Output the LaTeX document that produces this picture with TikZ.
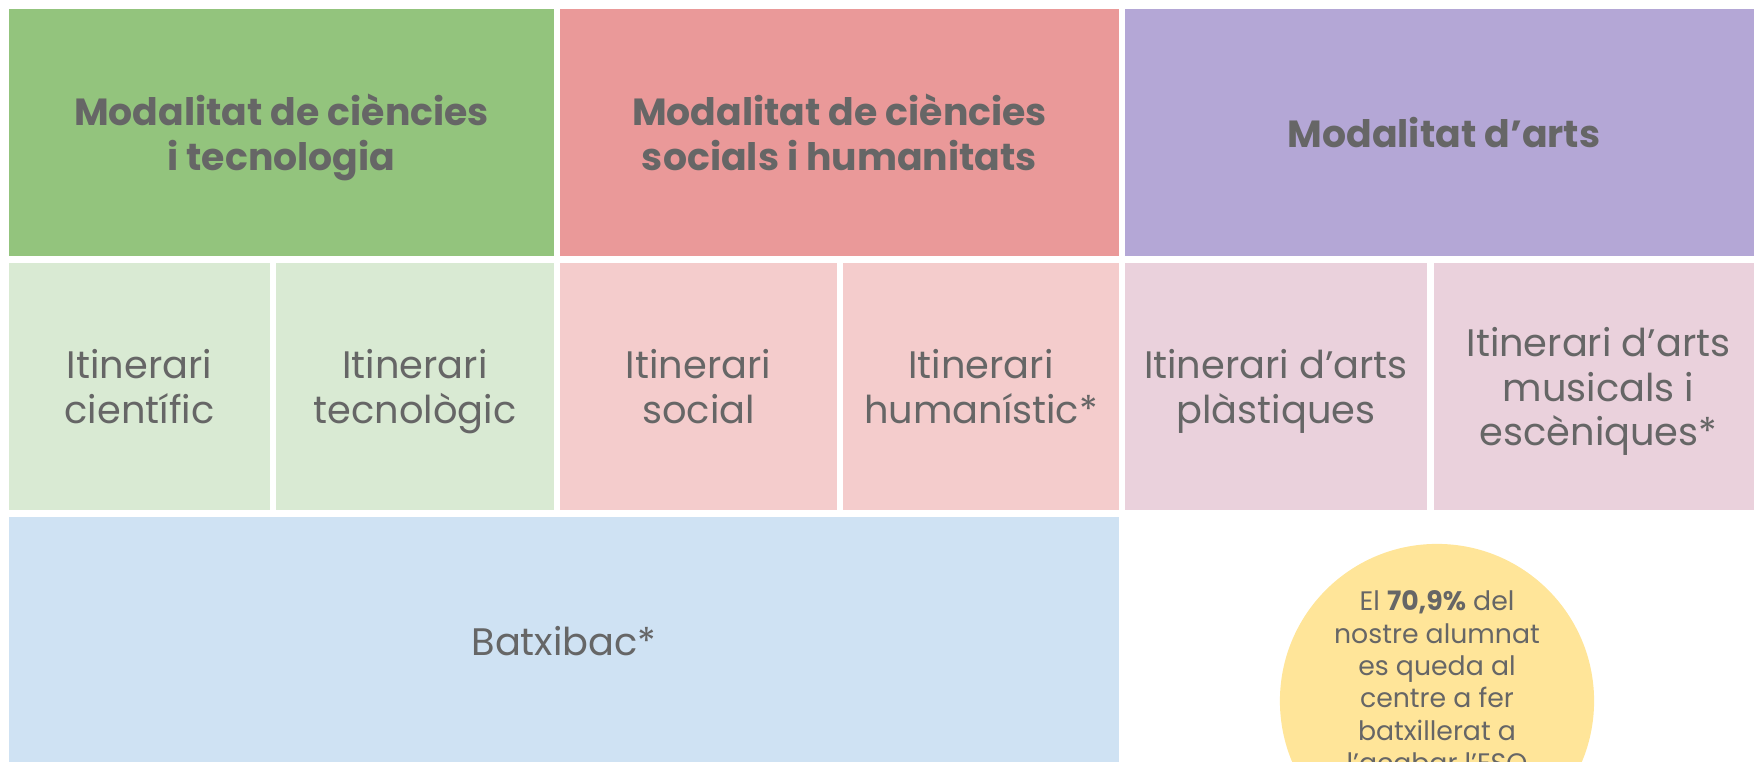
\documentclass[tikz,border=0pt]{standalone}
\usepackage{fontspec}
\setmainfont{Poppins}
\usepackage{xcolor}
\usepackage{tikz}

\definecolor{verd}{HTML}{93C47D}
\definecolor{verdclar}{HTML}{D9EAD3}
\definecolor{vermell}{HTML}{EA9999}
\definecolor{vermellclar}{HTML}{F4CCCC}
\definecolor{lila}{HTML}{B4A7D6}
\definecolor{rosa}{HTML}{EAD1DC}
\definecolor{blauclar}{HTML}{CFE2F3}
\definecolor{groc}{HTML}{FFE599}
\definecolor{gristext}{HTML}{666666}

\begin{document}
\begin{tikzpicture}[x=0.01cm, y=-0.01cm,
    caixa/.style={rectangle, inner sep=0pt, minimum height=2.47cm, align=center, text=gristext, text depth=0pt},
    modal/.style={caixa, font=\bfseries\fontsize{10.75}{12.7}\selectfont},
    itin/.style={caixa, font=\fontsize{10.9}{12.7}\selectfont}]
    \useasboundingbox (0,0) rectangle (1754,762);
    \clip (0,0) rectangle (1754,762);
    % modalitats
    \node[modal, fill=verd, minimum width=5.45cm] (cienc) at (281.5,132.5) {Modalitat de ciències\\i tecnologia};
    \node[modal, fill=vermell, minimum width=5.59cm] (socials) at (839.5,132.5) {Modalitat de ciències\\socials i humanitats};
    \node[modal, fill=lila, minimum width=6.38cm] (arts) at (1444,132.5) {Modalitat d’arts};
    % itineraris
    \node[itin, fill=verdclar, minimum width=2.61cm] (itcient) at (139.5,386.5) {Itinerari\\científic};
    \node[itin, fill=verdclar, minimum width=2.78cm] (ittec) at (415,386.5) {Itinerari\\tecnològic};
    \node[itin, fill=vermellclar, minimum width=2.77cm] (itsoc) at (698.5,386.5) {Itinerari\\social};
    \node[itin, fill=vermellclar, minimum width=2.76cm] (ithum) at (981,386.5) {Itinerari\\humanístic*};
    \node[itin, fill=rosa, minimum width=3.02cm] (itplas) at (1276,386.5) {Itinerari d’arts\\plàstiques};
    \node[itin, fill=rosa, minimum width=3.29cm] (itmus) at (1598.5,386.5) {Itinerari d’arts\\musicals i\\escèniques*};
    % batxibac
    \node[itin, fill=blauclar, minimum width=11.10cm, minimum height=2.48cm] (batxibac) at (564,641) {Batxibac*};
    % dada
    \node[circle, fill=groc, minimum size=3.14cm] (dada) at (1437,701) {};
    \node[anchor=north, align=center, text=gristext, inner sep=0pt, font=\fontsize{7.6}{9.2}\selectfont] (dadatext) at (1437,590)
        {El \textbf{70,9\%} del\\nostre alumnat\\es queda al\\centre a fer\\batxillerat a\\l’acabar l’ESO};
\end{tikzpicture}
\end{document}
